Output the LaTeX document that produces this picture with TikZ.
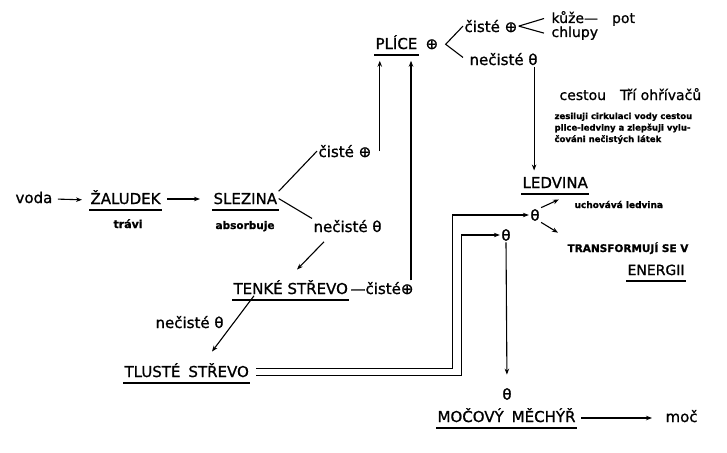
\documentclass[tikz,border=0pt]{standalone}
\usepackage{fontspec}
\setmainfont{DejaVu Sans}[FakeBold=1]
\usetikzlibrary{arrows.meta}
\tikzset{
  lbl/.style={anchor=base west,inner sep=1pt,font=\fontsize{15}{18}\selectfont},
  note/.style={anchor=base west,inner sep=1pt,font=\fontsize{10}{12}\selectfont\bfseries},
  sym/.style={inner sep=1pt,font=\fontsize{15}{18}\selectfont},
  uline/.style={line width=2pt}
}
\begin{document}
\begin{tikzpicture}[x=1pt,y=-1pt,line width=1.1pt,>={Stealth[length=6pt,width=4.5pt]}]
\useasboundingbox (0,0) rectangle (727,452);
\node[lbl] (voda) at (14,203) {voda};
\node[lbl] (zal) at (89,204) {ŽALUDEK};
\node[note,font=\fontsize{11}{13}\selectfont\bfseries] (trav) at (112,228) {trávi};
\node[lbl] (slez) at (212,204) {SLEZINA};
\node[note,font=\fontsize{10.5}{13}\selectfont\bfseries] (absor) at (214,229) {absorbuje};
\node[lbl] (cs1) at (317,157) {čisté ⊕};
\node[lbl] (nc1) at (312,232) {nečisté θ};
\node[lbl] (tenke) at (232,294) {TENKÉ STŘEVO};
\node[lbl] (cs2) at (349,294) {—čisté⊕};
\node[lbl] (nc3) at (154,328) {nečisté θ};
\node[lbl] (tlust) at (123,377) {TLUSTÉ\hspace{8pt}STŘEVO};
\node[lbl] (plice) at (374,49) {PLÍCE};
\node[lbl] (plp) at (424,49) {⊕};
\node[lbl] (cs3) at (463,32) {čisté ⊕};
\node[lbl] (nc2) at (468,65) {nečisté θ};
\node[lbl,font=\fontsize{14}{16}\selectfont] (ku) at (550,23) {kůže—\hspace{14pt}pot};
\node[lbl,font=\fontsize{14}{16}\selectfont] (ch) at (550,37) {chlupy};
\node[lbl,font=\fontsize{14}{16}\selectfont] (ces) at (558,100) {cestou\hspace{14pt}Tří ohřívačů};
\node[note,anchor=north west,align=left,font=\fontsize{8.5}{11.5}\selectfont\bfseries] (blk) at (553,111)
  {zesiluji cirkulaci vody cestou\\plice-ledviny a zlepšuji vylu-\\čováni nečistých látek};
\node[lbl] (led) at (521,188) {LEDVINA};
\node[sym] (m1) at (535,215) {θ};
\node[note,font=\fontsize{9}{11}\selectfont\bfseries] (uch) at (573,208) {uchovává ledvina};
\node[note,font=\fontsize{10.5}{12}\selectfont\bfseries] (tr) at (566,252) {TRANSFORMUJÍ SE V};
\node[lbl,font=\fontsize{14}{16}\selectfont] (ener) at (626,275) {ENERGII};
\node[sym] (m2) at (506,235) {θ};
\node[sym] (th) at (507,394) {θ};
\node[lbl] (mm) at (436,422) {MOČOVÝ\hspace{8pt}MĚCHÝŘ};
\node[lbl] (mc) at (664,422) {moč};
\foreach \n in {zal,slez,tenke,tlust,plice,led,ener,mm}
  \draw[uline] ([yshift=-6pt]\n.base west) -- ([yshift=-6pt]\n.base east);
\draw[->,shorten <=4pt,shorten >=7pt] ([yshift=4pt]voda.base east) -- ([yshift=4pt]zal.base west);
\draw[->,shorten <=5pt,shorten >=12pt] ([yshift=5pt]zal.base east) -- ([yshift=5pt]slez.base west);
\draw (slez.north east) -- (cs1.west);
\draw (slez.east) -- (nc1.north west);
\draw[->] ([xshift=12pt,yshift=-8pt]nc1.south west) -- ([xshift=65pt,yshift=9pt]tenke.north west);
\draw[->] ([xshift=22pt]tenke.south west) -- ([xshift=89pt,yshift=10pt]tlust.north west);
\draw[->] ([xshift=6pt,yshift=2pt]tlust.east) -| ([xshift=-76pt]m1.west) -- (m1.west);
\draw[->] ([xshift=6pt,yshift=-5pt]tlust.east) -| ([xshift=-38pt]m2.west) -- (m2.west);
\draw[->,shorten >=12pt] (m2.south) -- (th.north);
\draw[->] (m1.north east) -- ([xshift=-14pt,yshift=5pt]uch.west);
\draw[->] (m1.south east) -- ([xshift=-8pt,yshift=8pt]tr.north west);
\draw[->,shorten >=5pt] ([xshift=-5pt]nc2.south east) -- ([xshift=-5pt]nc2.south east |- led.north);
\draw (cs3.west) -- ([xshift=6pt]plp.east) -- ([xshift=-5pt,yshift=-6pt]nc2.north west);
\draw (cs3.east) -- ([xshift=-6pt]ku.west);
\draw (cs3.east) -- ([xshift=-6pt]ch.west);
\draw[->,shorten >=10pt] ([xshift=7pt]cs1.east) -- ([xshift=7pt]cs1.east |- plice.south);
\draw[->,shorten >=10pt] ([xshift=-4pt]cs2.north east) -- ([xshift=-4pt]cs2.north east |- plice.south);
\draw[->,shorten <=4pt,shorten >=12pt] ([yshift=4pt]mm.base east) -- ([yshift=4pt]mc.base west);
\end{tikzpicture}
\end{document}
